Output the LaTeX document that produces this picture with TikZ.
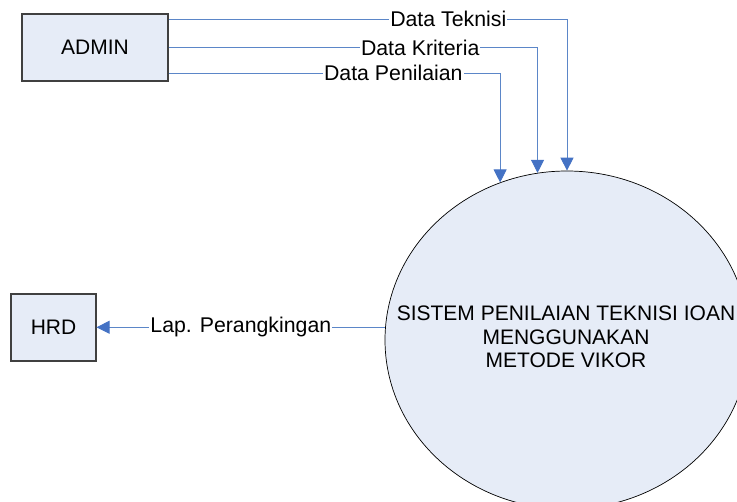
\documentclass[tikz,border=0pt]{standalone}
\usepackage{fontspec}
\setmainfont{Liberation Sans}
\usetikzlibrary{arrows.meta,shapes.geometric}
\definecolor{boxfill}{HTML}{E6ECF7}
\definecolor{flowblue}{HTML}{5B86C8}
\definecolor{tipblue}{HTML}{4472C4}
\definecolor{boxline}{HTML}{404040}
\begin{document}
\begin{tikzpicture}[x=1pt,y=-1pt,
  ent/.style={draw=boxline, line width=1.1pt, fill=boxfill, inner sep=0pt, font=\fontsize{21}{24}\selectfont},
  proc/.style={ellipse, draw=black, line width=0.7pt, fill=boxfill, inner sep=0pt, minimum width=364pt, minimum height=338pt},
  flow/.style={draw=flowblue, line width=0.9pt, -{Triangle[length=13pt,width=13pt,color=tipblue]}},
  lbl/.style={fill=white, inner xsep=1pt, inner ysep=1pt, font=\fontsize{21.3}{24}\selectfont, text=black}]
\useasboundingbox (0,0) rectangle (737,502);
\clip (0,0) rectangle (737,502);
\node[ent, minimum width=146pt, minimum height=67pt] (admin) at (95,47.5) {ADMIN};
\node[ent, minimum width=85pt, minimum height=67pt] (hrd) at (53.5,327.5) {HRD};
\node[proc, label={[align=center, inner sep=0pt, yshift=3pt, xshift=-1pt, font=\fontsize{21}{23.5}\selectfont]center:SISTEM PENILAIAN TEKNISI IOAN\\MENGGUNAKAN\\METODE VIKOR}] (sys) at (567,340) {};
\draw[flow] ([yshift=28.5pt]admin.east) -| node[lbl, pos=0.351]{Data Teknisi} (sys.north);
\draw[flow] (admin.east) -| node[lbl, pos=0.341]{Data Kriteria} (sys.100.5);
\draw[flow] ([yshift=-25.5pt]admin.east) -| node[lbl, pos=0.339]{Data Penilaian} (sys.113.1);
\draw[flow] (sys.176.2) -- node[lbl, pos=0.5]{Lap. Perangkingan} (hrd.east |- sys.176.2);
\end{tikzpicture}
\end{document}
